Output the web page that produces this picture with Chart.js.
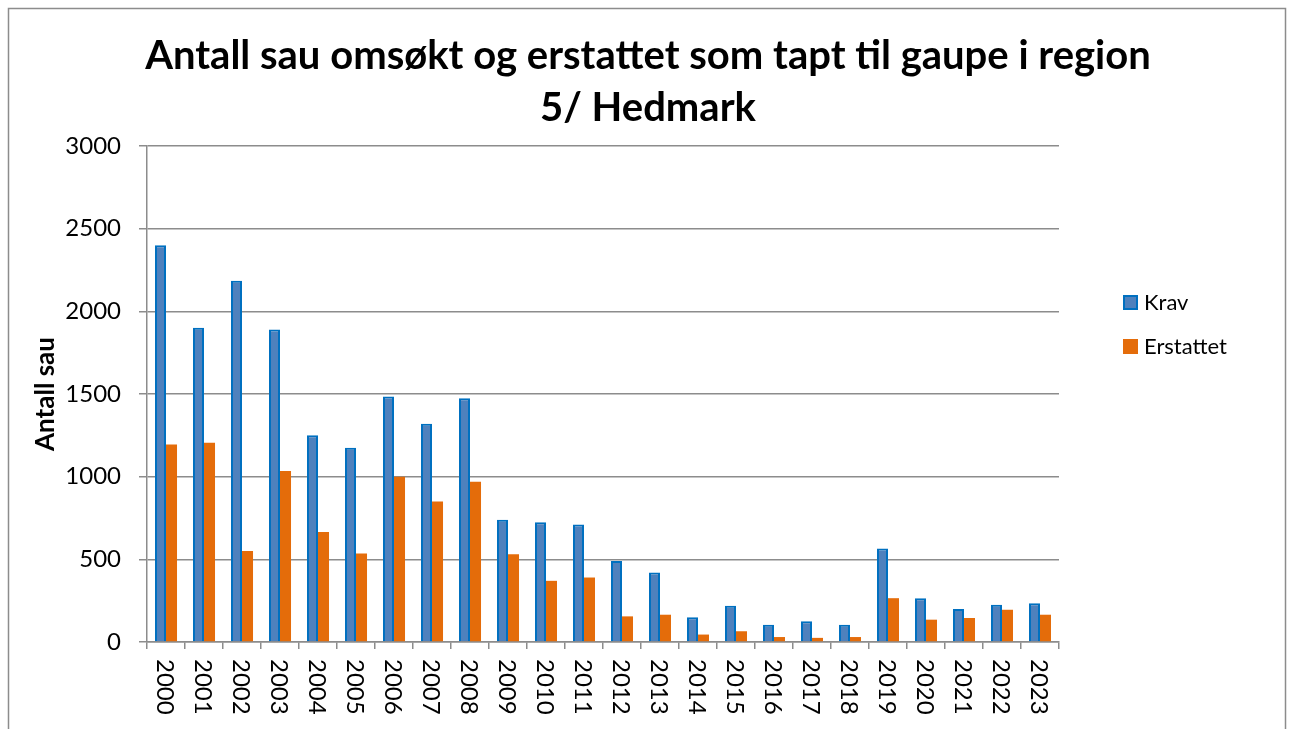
<!DOCTYPE html>
<html>
<head>
<meta charset="utf-8">
<script src="https://cdn.jsdelivr.net/npm/chart.js@4.4.1/dist/chart.umd.min.js"></script>
<style>
  body { margin: 0; background: #fff; }
  #wrap { width: 1290px; height: 729px; }
</style>
</head>
<body>
<div id="wrap"><canvas id="sauChart" width="1290" height="729"></canvas></div>
<script>
const years = ['2000', '2001', '2002', '2003', '2004', '2005', '2006', '2007', '2008', '2009', '2010', '2011',
  '2012', '2013', '2014', '2015', '2016', '2017', '2018', '2019', '2020', '2021', '2022', '2023'];
const krav = [2400, 1900, 2185, 1890, 1250, 1175, 1485, 1320, 1475, 740, 725, 710,
  490, 420, 150, 220, 105, 125, 105, 565, 265, 200, 225, 235];
const erstattet = [1195, 1205, 550, 1035, 665, 535, 1000, 850, 970, 530, 370, 390,
  155, 165, 45, 65, 30, 25, 30, 265, 135, 145, 195, 165];
const yTicks = [0, 500, 1000, 1500, 2000, 2500, 3000];
const titleLines = ['Antall sau omsøkt og erstattet som tapt til gaupe i region', '5/ Hedmark'];
const yTitle = 'Antall sau';

const FONT = 'Lato, "Open Sans", sans-serif';
const GRID = '#8c8c8c';

// title, legend, axis title, rotated year labels and frame
const extras = {
  id: 'extras',
  afterDraw(chart) {
    const ctx = chart.ctx;
    const x = chart.scales.x;
    ctx.save();

    ctx.strokeStyle = '#8c8c8c';
    ctx.lineWidth = 1.5;
    ctx.strokeRect(8.5, 8.5, 1277, 740);

    ctx.fillStyle = '#000';
    ctx.textAlign = 'center';
    ctx.textBaseline = 'alphabetic';
    ctx.font = 'bold 40px ' + FONT;
    ctx.fillText(titleLines[0], 648, 69);
    ctx.fillText(titleLines[1], 648, 121);

    ctx.save();
    ctx.translate(46, 394);
    ctx.rotate(-Math.PI / 2);
    ctx.font = 'bold 26px ' + FONT;
    ctx.textBaseline = 'middle';
    ctx.fillText(yTitle, 0, 0);
    ctx.restore();

    ctx.font = '24px ' + FONT;
    ctx.textAlign = 'left';
    ctx.textBaseline = 'middle';
    years.forEach((label, i) => {
      ctx.save();
      ctx.translate(x.getPixelForValue(i) - 1, 659);
      ctx.rotate(Math.PI / 2);
      ctx.fillText(label, 0, 0);
      ctx.restore();
    });

    // legend
    const items = chart.data.datasets;
    ctx.font = '22px ' + FONT;
    ctx.textBaseline = 'alphabetic';
    items.forEach((ds, i) => {
      const top = 295 + i * 44;
      ctx.fillStyle = ds.backgroundColor;
      ctx.fillRect(1123, top, 15, 15);
      if (ds.borderWidth) {
        ctx.strokeStyle = ds.borderColor;
        ctx.lineWidth = 2;
        ctx.strokeRect(1124, top + 1, 13, 13);
      }
      ctx.fillStyle = '#000';
      ctx.fillText(ds.label, 1144, top + 15);
    });
    ctx.restore();
  }
};

new Chart(document.getElementById('sauChart'), {
  type: 'bar',
  data: {
    labels: years,
    datasets: [{
      label: 'Krav',
      data: krav,
      backgroundColor: '#4f81bd',
      borderColor: '#0070c0',
      borderWidth: 2,
      borderSkipped: 'bottom'
    }, {
      label: 'Erstattet',
      data: erstattet,
      backgroundColor: '#e46c0a',
      borderWidth: 0
    }]
  },
  options: {
    responsive: false,
    animation: false,
    layout: { padding: { top: 146, right: 231, left: 0, bottom: 0 } },
    datasets: { bar: { categoryPercentage: 0.58, barPercentage: 1.0 } },
    plugins: {
      legend: { display: false },
      title: { display: false },
      tooltip: { enabled: false }
    },
    scales: {
      x: {
        offset: true,
        afterFit: s => { s.height = 87; },
        ticks: { display: false },
        grid: { offset: true, drawOnChartArea: false, drawTicks: true, tickLength: 7, color: GRID, lineWidth: 1.5 },
        border: { color: GRID, width: 1.5 }
      },
      y: {
        min: 0,
        max: 3000,
        afterFit: s => { s.width = 147; },
        afterBuildTicks: s => { s.ticks = yTicks.map(v => ({ value: v })); },
        ticks: { font: { family: FONT, size: 24 }, color: '#000', padding: 18, callback: v => String(v) },
        grid: { color: GRID, lineWidth: 1.5, tickLength: 8 },
        border: { color: GRID, width: 1.5 }
      }
    }
  },
  plugins: [extras]
});
</script>
</body>
</html>
